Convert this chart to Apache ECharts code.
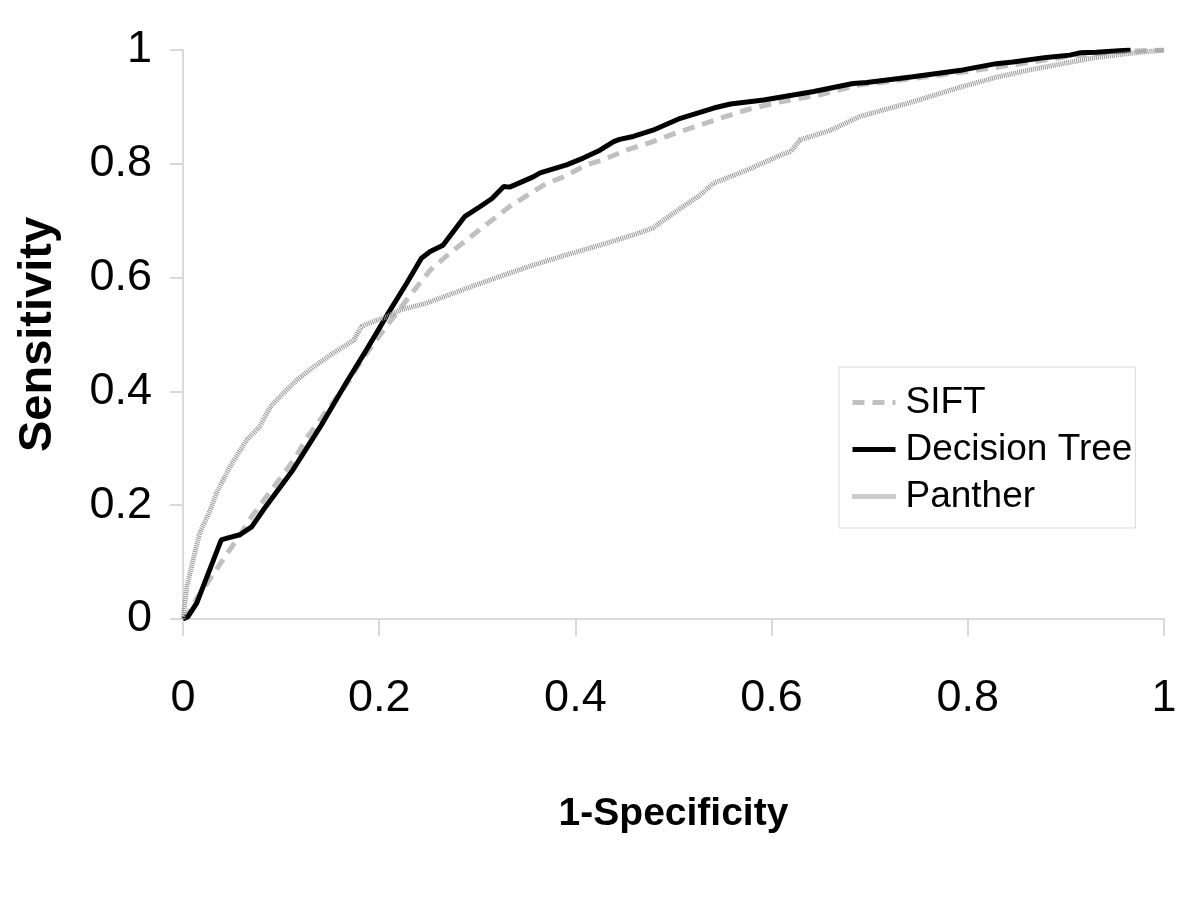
<!DOCTYPE html>
<html>
<head>
<meta charset="utf-8">
<script src="https://cdn.jsdelivr.net/npm/echarts@6/dist/echarts.min.js"></script>
<style>
html,body{margin:0;padding:0;background:#fff;}
#chart{width:1200px;height:901px;}
</style>
</head>
<body>
<div id="chart"></div>
<script>
const xTicks = [0, 0.2, 0.4, 0.6, 0.8, 1];
const yTicks = [0, 0.2, 0.4, 0.6, 0.8, 1];

const siftX = [0, .007, .014, .029, .043, .056, .070, .085, .099, .114, .126, .141, .170, .182, .197, .206, .233, .252, .272, .289, .306, .333, .354, .371, .388, .411, .428, .452, .479, .507, .527, .551, .575, .609, .649, .687, .75, .80, .85, .90, .95, 1.0];
const siftY = [0, .015, .036, .074, .110, .142, .180, .215, .247, .282, .318, .353, .420, .455, .490, .511, .572, .613, .643, .666, .689, .725, .748, .766, .777, .798, .807, .824, .839, .857, .868, .882, .895, .909, .921, .938, .951, .962, .975, .988, .997, 1.0];

const treeX = [0, .005, .014, .039, .045, .058, .070, .082, .112, .140, .167, .187, .208, .228, .243, .252, .265, .287, .303, .315, .327, .333, .357, .364, .391, .408, .425, .439, .445, .459, .479, .507, .541, .558, .592, .643, .683, .697, .744, .795, .829, .846, .880, .904, .914, .931, .966];
const treeY = [0, .004, .028, .139, .142, .148, .162, .192, .262, .338, .417, .473, .534, .590, .634, .646, .657, .707, .725, .739, .760, .759, .777, .784, .798, .810, .824, .839, .843, .848, .859, .880, .898, .905, .912, .927, .941, .943, .953, .965, .976, .979, .987, .991, .995, .996, 1.0];

const pantherX = [0, .004, .011, .017, .028, .034, .048, .065, .078, .089, .099, .116, .133, .153, .174, .182, .194, .208, .221, .248, .289, .323, .357, .391, .425, .459, .479, .490, .510, .527, .541, .575, .609, .620, .629, .660, .690, .744, .795, .829, .863, .897, .931, .965, 1.0];
const pantherY = [0, .057, .109, .151, .192, .221, .268, .315, .338, .373, .391, .420, .443, .467, .490, .514, .523, .531, .543, .555, .581, .602, .622, .640, .657, .675, .687, .701, .725, .745, .766, .789, .815, .822, .842, .859, .883, .909, .936, .952, .965, .976, .987, .994, 1.0];

const seriesNames = ['SIFT', 'Decision Tree', 'Panther'];

function zip(xs, ys) { return xs.map((x, i) => [x, ys[i]]); }

const font = "'Liberation Sans', Arial, sans-serif";
const axisColor = '#d9d9d9';

const chart = echarts.init(document.getElementById('chart'), null, {renderer: 'canvas'});
chart.setOption({
  animation: false,
  backgroundColor: '#ffffff',
  grid: {left: 183, right: 36, top: 50, bottom: 282, containLabel: false},
  legend: {
    orient: 'vertical',
    left: 839, top: 367,
    padding: [12, 3, 8, 11],
    itemWidth: 43, itemHeight: 2, itemGap: 0,
    borderColor: axisColor, borderWidth: 1,
    backgroundColor: '#ffffff',
    itemStyle: {opacity: 0},
    lineStyle: {width: 5},
    data: seriesNames,
    textStyle: {fontFamily: font, fontSize: 37, color: '#000', lineHeight: 47, padding: [0, 0, 0, 5]}
  },
  xAxis: {
    type: 'value', min: 0, max: 1, interval: 0.2,
    axisLine: {show: true, onZero: false, lineStyle: {color: axisColor, width: 2}},
    axisTick: {show: true, length: 17, lineStyle: {color: axisColor, width: 2}},
    splitLine: {show: false},
    axisLabel: {fontFamily: font, fontSize: 45, color: '#000', margin: 57,
      formatter: v => String(+v.toFixed(1))},
    name: '1-Specificity', nameLocation: 'middle', nameGap: 176,
    nameTextStyle: {fontFamily: font, fontSize: 39, fontWeight: 'bold', color: '#000'}
  },
  yAxis: {
    type: 'value', min: 0, max: 1, interval: 0.2,
    axisLine: {show: true, onZero: false, lineStyle: {color: axisColor, width: 2}},
    axisTick: {show: true, length: 13, lineStyle: {color: axisColor, width: 2}},
    splitLine: {show: false},
    axisLabel: {fontFamily: font, fontSize: 45, color: '#000', margin: 31,
      formatter: v => String(+v.toFixed(1))},
    name: 'Sensitivity', nameLocation: 'middle', nameGap: 121, nameRotate: 90,
    nameTextStyle: {fontFamily: font, fontSize: 47, fontWeight: 'bold', color: '#000'}
  },
  series: [
    {name: seriesNames[0], type: 'line', data: zip(siftX, siftY), showSymbol: false, symbol: 'none',
      lineStyle: {color: '#c0c0c0', width: 5, type: [12, 8]}, itemStyle: {color: '#c0c0c0'}},
    {name: seriesNames[1], type: 'line', data: zip(treeX, treeY), showSymbol: false, symbol: 'none',
      lineStyle: {color: '#000000', width: 5, type: 'solid'}, itemStyle: {color: '#000000'}},
    {name: seriesNames[2], type: 'line', data: zip(pantherX, pantherY), showSymbol: false, symbol: 'none',
      lineStyle: {color: '#969696', width: 5, type: [1, 1]}, itemStyle: {color: '#969696'}}
  ]
});
</script>
</body>
</html>
